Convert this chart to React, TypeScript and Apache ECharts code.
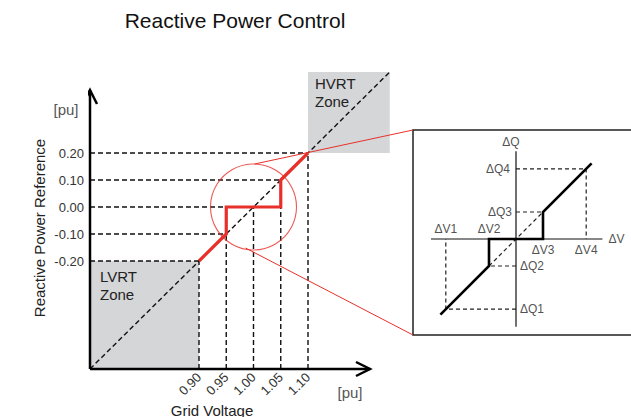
import React, { useEffect, useRef } from 'react';
import * as echarts from 'echarts';

// ---- main chart data ----
const xTickValues = [0.9, 0.95, 1.0, 1.05, 1.1];
const yTickValues = [-0.2, -0.1, 0.0, 0.1, 0.2];
const controlVoltage = [0.9, 0.95, 0.95, 1.05, 1.05, 1.1];
const controlReactive = [-0.2, -0.1, 0.0, 0.0, 0.1, 0.2];
const hGuideEndVoltage = [0.9, 0.95, 0.95, 1.05, 1.1]; // for each y tick
const vGuideEndReactive = [-0.2, -0.1, 0.0, 0.0, 0.2]; // for each x tick
const lvrtVoltage = [0.7, 0.9];
const lvrtReactive = [-0.6, -0.2];
const hvrtVoltage = [1.1, 1.25];
const hvrtReactive = [0.2, 0.5];
const refVoltage = [0.7, 1.25];
const refReactive = [-0.6, 0.5];
const zoomCenter = [1.0, 0.0];

// ---- inset data ----
const insetDV = [-2.6, -1, 1, 2.6];
const insetDQ = [-2.6, -1, 1, 2.6];
const insetCurveV = [-2.8, -1, -1, 1, 1, 2.8];
const insetCurveQ = [-2.8, -1, 0, 0, 1, 2.8];
const insetVLabels = ['ΔV1', 'ΔV2', 'ΔV3', 'ΔV4'];
const insetQLabels = ['ΔQ1', 'ΔQ2', 'ΔQ3', 'ΔQ4'];

const FONT = 'Liberation Sans, Arial, Helvetica, sans-serif';
const RED = '#e8302a';
const GRID = { left: 90, top: 45, width: 327, height: 324 };
const X_MIN = 0.7, X_MAX = 1.3, Y_MIN = -0.6, Y_MAX = 0.6;
const KX = GRID.width / (X_MAX - X_MIN);
const KY = GRID.height / (Y_MAX - Y_MIN);
const dx = (p: number) => p / KX;
const dy = (p: number) => p / KY;
const toDataX = (px: number) => X_MIN + (px - GRID.left) / KX;
const toDataY = (py: number) => Y_MIN + (GRID.top + GRID.height - py) / KY;
const BOX = { x: 413, y: 130, w: 240, h: 205 };
const IGRID = { left: 408, top: 131, width: 216, height: 216 };

const dashed = { type: [5, 3] as any, width: 1.4, color: '#111' };

function fmtTick(v: number, ticks: number[]) {
  const r = Math.round(v * 100) / 100;
  return ticks.some((t) => Math.abs(t - r) < 1e-6) ? (Math.abs(r) < 1e-9 ? 0 : r).toFixed(2) : '';
}

export default function App() {
  const ref = useRef<HTMLDivElement>(null);
  useEffect(() => {
    if (!ref.current) return;
    const chart = echarts.init(ref.current, undefined, { renderer: 'svg' });
    const series: any[] = [];
    const line = (data: any[], lineStyle: any, z: number, extra: any = {}) => ({
      type: 'line', data, symbol: 'none', silent: true, clip: false, z, lineStyle, ...extra,
    });

    // reference diagonal with zones
    series.push(line(refVoltage.map((v, i) => [v, refReactive[i]]), dashed, 3, {
      markArea: {
        silent: true,
        itemStyle: { color: '#d5d6d8' },
        data: [
          [{ coord: [lvrtVoltage[0], lvrtReactive[1]], label: { show: true, position: 'insideTopLeft', distance: 6, offset: [4, 0], formatter: 'LVRT\nZone', fontFamily: FONT, fontSize: 15, lineHeight: 18, color: '#222' } },
           { coord: [lvrtVoltage[1], lvrtReactive[0]] }],
          [{ coord: [hvrtVoltage[0], hvrtReactive[1]], label: { show: true, position: 'insideTopLeft', distance: 5, offset: [2, -3], formatter: 'HVRT\nZone', fontFamily: FONT, fontSize: 15, lineHeight: 18, color: '#222' } },
           { coord: [hvrtVoltage[1], hvrtReactive[0]] }],
        ],
      },
    }));
    // guides
    yTickValues.forEach((q, i) => series.push(line([[X_MIN, q], [hGuideEndVoltage[i], q]], dashed, 3)));
    xTickValues.forEach((v, i) => series.push(line([[v, Y_MIN], [v, vGuideEndReactive[i]]], dashed, 3)));
    // control curve
    series.push(line(controlVoltage.map((v, i) => [v, controlReactive[i]]), { color: RED, width: 3.2, join: 'miter' }, 5));
    // zoom circle
    series.push({
      type: 'scatter', data: [zoomCenter], symbol: 'circle', symbolSize: 86, silent: true, z: 6,
      itemStyle: { color: 'rgba(0,0,0,0)', borderColor: RED, borderWidth: 1.1 },
    });
    // connectors to inset
    series.push(line([[zoomCenter[0] + dx(1), zoomCenter[1] + dy(43)], [toDataX(BOX.x), toDataY(BOX.y)]], { color: RED, width: 1 }, 6));
    series.push(line([[zoomCenter[0] - dx(8), zoomCenter[1] - dy(41)], [toDataX(BOX.x), toDataY(BOX.y + BOX.h)]], { color: RED, width: 1 }, 6));
    // axes with open arrow heads
    const xEnd = X_MIN + dx(280);
    const yEnd = Y_MIN + dy(279);
    const axisStyle = { color: '#000', width: 2.5, join: 'miter' };
    series.push(line([[X_MIN, Y_MIN], [xEnd, Y_MIN]], axisStyle, 10));
    series.push(line([[X_MIN, Y_MIN], [X_MIN, yEnd]], axisStyle, 10));
    series.push(line([[xEnd - dx(14), Y_MIN + dy(7)], [xEnd, Y_MIN], [xEnd - dx(14), Y_MIN - dy(7)]], axisStyle, 10));
    series.push(line([[X_MIN - dx(7), yEnd - dy(14)], [X_MIN, yEnd], [X_MIN + dx(7), yEnd - dy(14)]], axisStyle, 10));

    // ---- inset ----
    const iline = (data: any[], lineStyle: any, z: number) => ({ ...line(data, lineStyle, z), xAxisIndex: 1, yAxisIndex: 1 });
    const iDashed = { type: [4, 3] as any, width: 1.2, color: '#222' };
    series.push(iline([[-3.15, 0], [3.2, 0]], { color: '#111', width: 1.2 }, 4));
    series.push(iline([[0, -3.25], [0, 3.25]], { color: '#111', width: 1.2 }, 4));
    insetDV.forEach((v, i) => series.push(iline([[0, insetDQ[i]], [v, insetDQ[i]], [v, 0]], iDashed, 3)));
    series.push(iline([[insetCurveV[1], insetCurveQ[1]], [insetCurveV[4], insetCurveQ[4]]], iDashed, 3));
    series.push(iline(insetCurveV.map((v, i) => [v, insetCurveQ[i]]), { color: '#000', width: 2.6, join: 'miter' }, 5));
    const lbl = { fontFamily: FONT, fontSize: 12, color: '#222' };
    const labelData: any[] = [];
    insetDV.forEach((v, i) => labelData.push({
      value: [v, 0],
      label: { ...lbl, show: true, formatter: insetVLabels[i], position: i < 2 ? 'top' : 'bottom', distance: i < 2 ? 4 : 5 },
    }));
    insetDQ.forEach((q, i) => labelData.push({
      value: [0, q],
      label: { ...lbl, show: true, formatter: insetQLabels[i], position: i < 2 ? 'right' : 'left', distance: i === 3 ? 6 : 4 },
    }));
    labelData.push({ value: [3.2, 0], label: { ...lbl, show: true, formatter: 'ΔV', position: 'right', distance: 6 } });
    labelData.push({ value: [0, 3.25], label: { ...lbl, show: true, formatter: 'ΔQ', position: 'top', distance: 3, offset: [-5, 0] } });
    series.push({ type: 'scatter', xAxisIndex: 1, yAxisIndex: 1, data: labelData, symbolSize: 0, silent: true, z: 7 });

    chart.setOption({
      animation: false,
      grid: [
        { ...GRID, containLabel: false },
        { ...IGRID, containLabel: false },
      ],
      xAxis: [
        {
          type: 'value', min: X_MIN, max: X_MAX, interval: 0.05, gridIndex: 0,
          axisLine: { show: false }, axisTick: { show: false }, splitLine: { show: false },
          axisLabel: { rotate: 45, margin: 6, fontFamily: FONT, fontSize: 13, color: '#333', formatter: (v: number) => fmtTick(v, xTickValues) },
        },
        { type: 'value', min: -4, max: 4, gridIndex: 1, show: false },
      ],
      yAxis: [
        {
          type: 'value', min: Y_MIN, max: Y_MAX, interval: 0.1, gridIndex: 0,
          axisLine: { show: false }, axisTick: { show: false }, splitLine: { show: false },
          axisLabel: { margin: 6, fontFamily: FONT, fontSize: 13, color: '#333', formatter: (v: number) => fmtTick(v, yTickValues) },
        },
        { type: 'value', min: -4, max: 4, gridIndex: 1, show: false },
      ],
      graphic: [
        { type: 'rect', z: 1, shape: { x: BOX.x, y: BOX.y, width: BOX.w, height: BOX.h }, style: { fill: '#fff', stroke: '#222', lineWidth: 1.5 } },
        { type: 'text', x: 235, y: 20, style: { text: 'Reactive Power Control', font: `21px ${FONT}`, fill: '#111', textAlign: 'center', textVerticalAlign: 'middle' } },
        { type: 'text', x: 39, y: 228, rotation: Math.PI / 2, style: { text: 'Reactive Power Reference', font: `15px ${FONT}`, fill: '#222', textAlign: 'center', textVerticalAlign: 'middle' } },
        { type: 'text', x: 66, y: 109, style: { text: '[pu]', font: `15px ${FONT}`, fill: '#555', textAlign: 'center', textVerticalAlign: 'middle' } },
        { type: 'text', x: 350, y: 392, style: { text: '[pu]', font: `15px ${FONT}`, fill: '#555', textAlign: 'center', textVerticalAlign: 'middle' } },
        { type: 'text', x: 212, y: 410, style: { text: 'Grid Voltage', font: `15px ${FONT}`, fill: '#222', textAlign: 'center', textVerticalAlign: 'middle' } },
      ],
      series,
    });
    return () => chart.dispose();
  }, []);
  return <div ref={ref} style={{ position: 'absolute', left: 0, top: 0, width: 631, height: 417, background: '#fff' }} />;
}
